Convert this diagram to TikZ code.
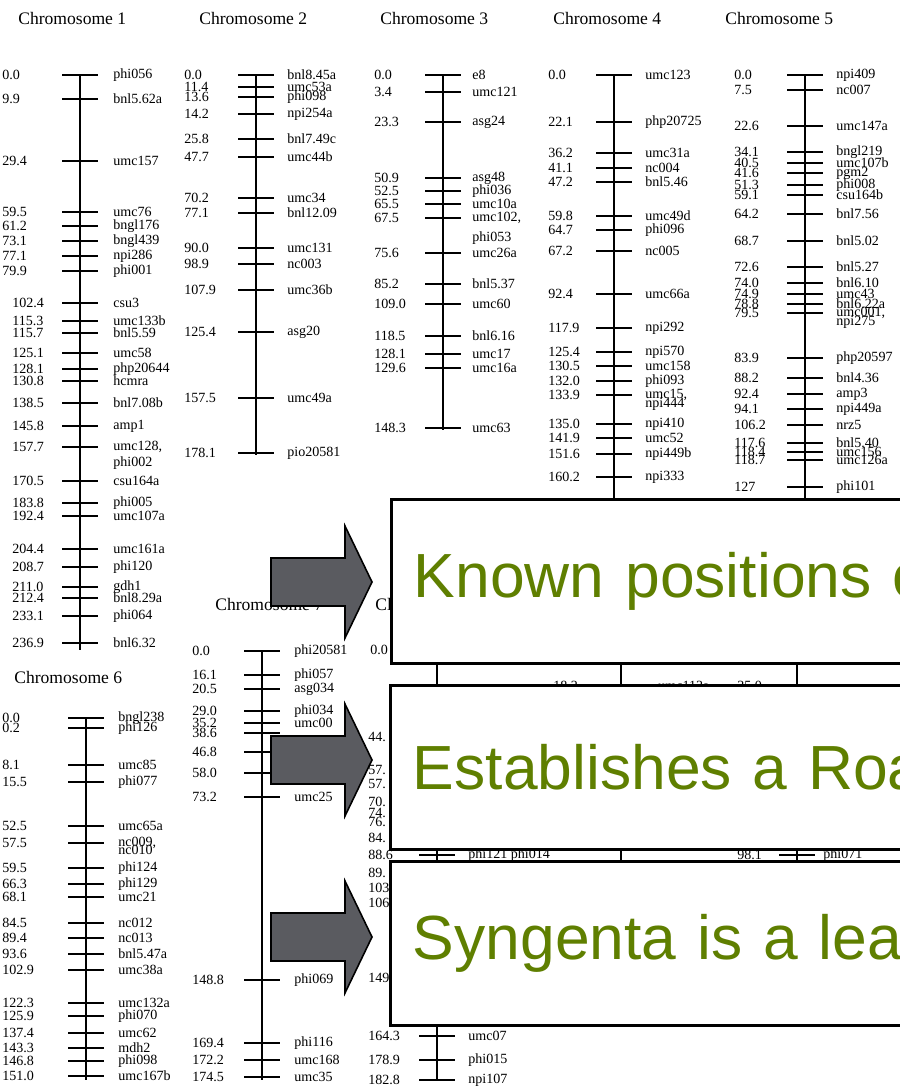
\documentclass[tikz,border=0pt]{standalone}
\usepackage{fontspec}
\setmainfont{Liberation Serif}
\newfontfamily\calloutfont{Liberation Sans}
\usepackage{tikz}
\usetikzlibrary{positioning}
\definecolor{leaf}{HTML}{5F7F00}
\definecolor{arrowgrey}{HTML}{5A5B60}

% ticks, positions and marker names of one linkage group
\newcommand{\mapmarks}[5]{%
  \foreach \y/\n/\l [count=\i] in {#5}{
    \draw[tick] (#2-18,\y) -- (#2+18,\y);
    \node[num] (#1n\i) at (#3,\y) {\n};
    \node[lbl] (#1l\i) at (#4,\y) {\l};
  }}

\begin{document}
\begin{tikzpicture}[x=0.02cm,y=-0.02cm,
  axis/.style={line width=0.6pt},
  tick/.style={line width=0.6pt},
  num/.style={anchor=west,inner sep=0pt,font=\fontsize{8}{9}\selectfont},
  lbl/.style={num},
  title/.style={anchor=west,inner sep=0pt,font=\fontsize{10}{12}\selectfont},
  callout/.style={draw=black,line width=1.7pt,fill=white,anchor=north west,
    minimum width=12.6cm,minimum height=3.28cm,text width=11.7cm,
    inner xsep=0.42cm,align=left,text=leaf,
    font=\calloutfont\fontsize{35.5}{40}\selectfont},
  bigarrow/.style={draw=black,line width=0.9pt,fill=arrowgrey,line join=miter}]
\useasboundingbox (0,0) rectangle (900,1090);
\clip (0,0) rectangle (900,1090);
\fill[white] (0,0) rectangle (900,1090);

% chromosome 1
\node[title] (t1) at (18,18) {Chromosome 1};
\coordinate (c1top) at (80,75);
\coordinate (c1bot) at (80,650);
\draw[axis] (c1top) -- (c1bot);
\mapmarks{c1a}{80}{2}{113}{75/0.0/phi056, 99/9.9/bnl5.62a, 161/29.4/umc157,
  212/59.5/umc76, 226/61.2/bngl176, 241/73.1/bngl439, 256/77.1/npi286,
  271/79.9/phi001}
\mapmarks{c1b}{80}{12}{113}{303/102.4/csu3, 321/115.3/umc133b, 333/115.7/bnl5.59,
  353/125.1/umc58, 369/128.1/php20644, 381/130.8/hcmra, 403/138.5/bnl7.08b,
  426/145.8/amp1, 447/157.7/{umc128,}, 481/170.5/csu164a, 503/183.8/phi005,
  516/192.4/umc107a, 549/204.4/umc161a, 567/208.7/phi120, 587/211.0/gdh1,
  598/212.4/bnl8.29a, 616/233.1/phi064, 643/236.9/bnl6.32}
\node[lbl] (c1x) at (113,463) {phi002};

% chromosome 2
\node[title] (t2) at (199,18) {Chromosome 2};
\coordinate (c2top) at (256,75);
\coordinate (c2bot) at (256,455);
\draw[axis] (c2top) -- (c2bot);
\mapmarks{c2}{256}{184}{287}{75/0.0/bnl8.45a, 87/11.4/umc53a, 97/13.6/phi098,
  114/14.2/npi254a, 139/25.8/bnl7.49c, 157/47.7/umc44b, 198/70.2/umc34,
  213/77.1/bnl12.09, 248/90.0/umc131, 264/98.9/nc003, 290/107.9/umc36b,
  332/125.4/asg20, 398/157.5/umc49a, 453/178.1/pio20581}

% chromosome 3
\node[title] (t3) at (380,18) {Chromosome 3};
\coordinate (c3top) at (443,75);
\coordinate (c3bot) at (443,430);
\draw[axis] (c3top) -- (c3bot);
\mapmarks{c3}{443}{374}{472}{75/0.0/e8, 92/3.4/umc121, 122/23.3/asg24,
  178/50.9/asg48, 191/52.5/phi036, 204/65.5/umc10a, 218/67.5/{umc102,},
  253/75.6/umc26a, 284/85.2/bnl5.37, 304/109.0/umc60, 336/118.5/bnl6.16,
  354/128.1/umc17, 368/129.6/umc16a, 428/148.3/umc63}
\node[lbl] (c3x) at (472,238) {phi053};

% chromosome 4
\node[title] (t4) at (553,18) {Chromosome 4};
\coordinate (c4top) at (614,75);
\coordinate (c4bot) at (614,505);
\draw[axis] (c4top) -- (c4bot);
\mapmarks{c4}{614}{548}{645}{75/0.0/umc123, 122/22.1/php20725, 153/36.2/umc31a,
  168/41.1/nc004, 182/47.2/bnl5.46, 216/59.8/umc49d, 230/64.7/phi096,
  251/67.2/nc005, 294/92.4/umc66a, 328/117.9/npi292, 352/125.4/npi570,
  366/130.5/umc158, 381/132.0/phi093, 395/133.9/{umc15,}, 424/135.0/npi410,
  438/141.9/umc52, 454/151.6/npi449b, 477/160.2/npi333}
\node[lbl] (c4x) at (645,404) {npi444};

% chromosome 5
\node[title] (t5) at (725,18) {Chromosome 5};
\coordinate (c5top) at (805,75);
\coordinate (c5bot) at (805,505);
\draw[axis] (c5top) -- (c5bot);
\mapmarks{c5}{805}{734}{836}{75/0.0/npi409, 90/7.5/nc007, 126/22.6/umc147a,
  152/34.1/bngl219, 163/40.5/umc107b, 173/41.6/pgm2, 185/51.3/phi008,
  195/59.1/csu164b, 214/64.2/bnl7.56, 241/68.7/bnl5.02, 267/72.6/bnl5.27,
  283/74.0/bnl6.10, 294/74.9/umc43, 304/78.8/bnl6.22a, 313/79.5/{umc001,},
  358/83.9/php20597, 378/88.2/bnl4.36, 394/92.4/amp3, 409/94.1/npi449a,
  425/106.2/nrz5, 443/117.6/bnl5.40, 452/118.4/umc156, 460/118.7/umc126a,
  487/127/phi101}
\node[lbl] (c5x) at (836,322) {npi275};

% chromosome 6
\node[title] (t6) at (14,677) {Chromosome 6};
\coordinate (c6top) at (86,717);
\coordinate (c6bot) at (86,1080);
\draw[axis] (c6top) -- (c6bot);
\mapmarks{c6}{86}{2}{118}{718/0.0/bngl238, 728/0.2/phi126, 765/8.1/umc85,
  782/15.5/phi077, 826/52.5/umc65a, 843/57.5/{nc009,}, 868/59.5/phi124,
  884/66.3/phi129, 897/68.1/umc21, 923/84.5/nc012, 938/89.4/nc013,
  954/93.6/bnl5.47a, 970/102.9/umc38a, 1003/122.3/umc132a, 1016/125.9/phi070,
  1033/137.4/umc62, 1048/143.3/mdh2, 1061/146.8/phi098, 1076/151.0/umc167b}
\node[lbl] (c6x) at (118,850) {nc010};

% chromosome 7
\node[title] (t7) at (215,604) {Chromosome 7};
\coordinate (c7top) at (262,651);
\coordinate (c7bot) at (262,1080);
\draw[axis] (c7top) -- (c7bot);
\mapmarks{c7}{262}{192}{294}{651/0.0/phi20581, 675/16.1/phi057, 689/20.5/asg034,
  711/29.0/phi034, 723/35.2/umc00, 797/73.2/umc25, 980/148.8/phi069,
  1043/169.4/phi116, 1060/172.2/umc168, 1077/174.5/umc35}
\foreach \y/\n [count=\i] in {733/38.6, 752/46.8, 773/58.0}{
  \draw[tick] (244,\y) -- (280,\y);
  \node[num] (c7h\i) at (192,\y) {\n};
}

% chromosomes 8 to 10, mostly under the callouts
\node[title] (t8) at (375,604) {Cl};
\coordinate (c8top) at (437,650);
\coordinate (c8bot) at (437,1080);
\draw[axis] (c8top) -- (c8bot);
\coordinate (c9top) at (621,655);
\coordinate (c9bot) at (621,1000);
\draw[axis] (c9top) -- (c9bot);
\coordinate (c10top) at (797,655);
\coordinate (c10bot) at (797,1000);
\draw[axis] (c10top) -- (c10bot);
\node[num] (c8n0) at (370,650) {0.0};
\foreach \y/\n [count=\i] in {737/44., 770/57., 784/57., 802/70., 813/74.,
  822/76., 838/84., 873/89., 888/103, 903/106, 978/149}{
  \node[num] (c8f\i) at (368,\y) {\n};
}
\mapmarks{c8}{437}{368}{468}{855/88.6/phi121 phi014, 1036/164.3/umc07,
  1060/178.9/phi015, 1080/182.8/npi107}
\mapmarks{c9}{621}{553}{658}{686/18.2/umc113a}
\mapmarks{c10}{797}{737}{823}{686/35.0/{}, 855/98.1/phi071}

% callouts
\node[callout] (known) at (390,498) {Known positions o};
\node[callout] (roadmap) at (389,684) {Establishes a Roa};
\node[callout] (syngenta) at (389,860) {Syngenta is a lea};

% block arrows
\coordinate (a1) at (271,582);
\coordinate (a2) at (271,760);
\coordinate (a3) at (271,937);
\foreach \a in {a1,a2,a3}{
  \draw[bigarrow,shift={(\a)}] (0,-24) -- (74,-24) -- (74,-56) -- (101,0)
    -- (74,56) -- (74,24) -- (0,24) -- cycle;
}
\end{tikzpicture}
\end{document}
